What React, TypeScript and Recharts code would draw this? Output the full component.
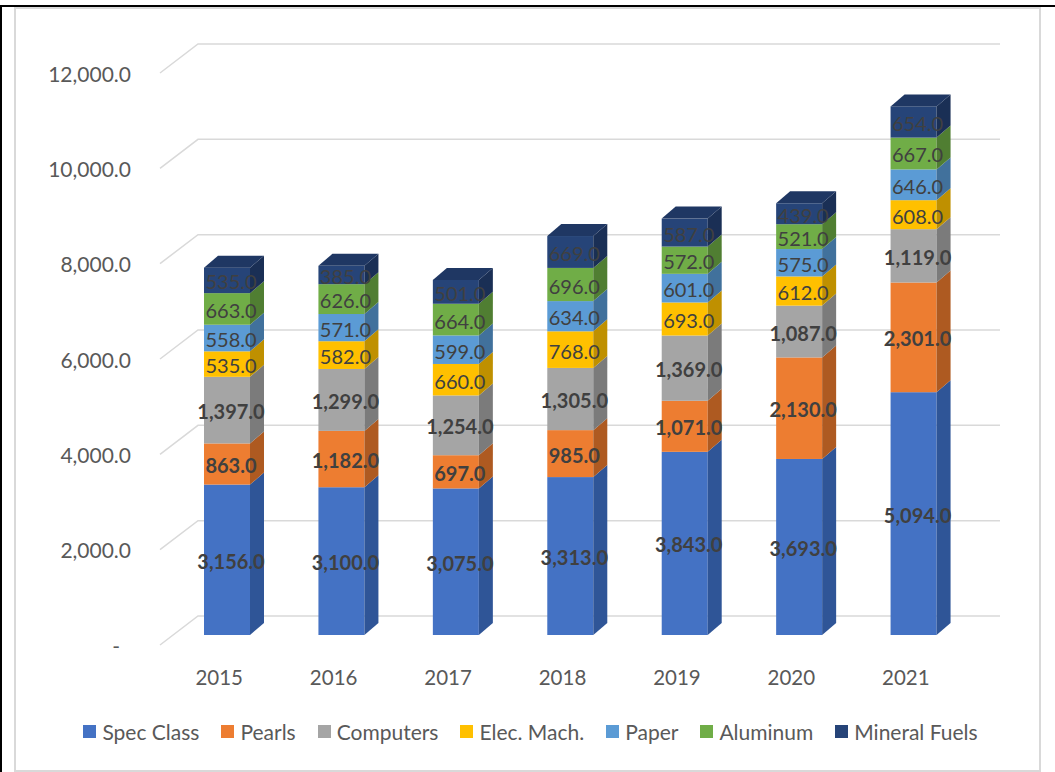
import { Bar, BarChart, CartesianGrid, LabelList, Legend, XAxis, YAxis } from "recharts";

const years = ["2015", "2016", "2017", "2018", "2019", "2020", "2021"];
const specClass = [3156, 3100, 3075, 3313, 3843, 3693, 5094];
const pearls = [863, 1182, 697, 985, 1071, 2130, 2301];
const computers = [1397, 1299, 1254, 1305, 1369, 1087, 1119];
const elecMach = [535, 582, 660, 768, 693, 612, 608];
const paper = [558, 571, 599, 634, 601, 575, 646];
const aluminum = [663, 626, 664, 696, 572, 521, 667];
const mineralFuels = [535, 385, 501, 669, 587, 439, 654];
const yTicks = [0, 2000, 4000, 6000, 8000, 10000, 12000];

const series = [
  { key: "spec", name: "Spec Class", values: specClass, front: "#4472C4", side: "#2F5597", bold: true },
  { key: "pearls", name: "Pearls", values: pearls, front: "#ED7D31", side: "#AE5A21", bold: true },
  { key: "comp", name: "Computers", values: computers, front: "#A5A5A5", side: "#7B7B7B", bold: true },
  { key: "elec", name: "Elec. Mach.", values: elecMach, front: "#FFC000", side: "#BF9000", bold: false },
  { key: "paper", name: "Paper", values: paper, front: "#5B9BD5", side: "#41719C", bold: false },
  { key: "alu", name: "Aluminum", values: aluminum, front: "#70AD47", side: "#507E32", bold: false },
  { key: "fuel", name: "Mineral Fuels", values: mineralFuels, front: "#264478", side: "#1A2F55", bold: false },
];

const data = years.map((year, i) => {
  const row: Record<string, string | number> = { year };
  series.forEach((s) => (row[s.key] = s.values[i]));
  return row;
});

const FONT = "Lato, 'Open Sans', sans-serif";
// 3d depth of the boxes and of the back wall
const DX = 14;
const DY = 12;
const WALL_DX = 38;
const WALL_DY = 29;

const makeShape = (front: string, side: string, top: boolean) => (p: any) => {
  const { x, y, width: w, height: h } = p;
  if (!h || h <= 0) return <g />;
  return (
    <g>
      <rect x={x} y={y} width={w} height={h} fill={front} />
      <path d={`M${x + w},${y} L${x + w + DX},${y - DY} L${x + w + DX},${y + h - DY} L${x + w},${y + h} Z`} fill={side} />
      {top && (
        <path d={`M${x},${y} L${x + DX},${y - DY} L${x + w + DX},${y - DY} L${x + w},${y} Z`} fill="#1F3763" />
      )}
    </g>
  );
};

const makeLabel = (bold: boolean) => (p: any) => {
  const { x, y, width, height, value } = p;
  return (
    <text
      x={x + width / 2 + 4}
      y={y + height / 2 + 1}
      textAnchor="middle"
      dominantBaseline="central"
      fill="#404040"
      fontFamily={FONT}
      fontSize={20}
      fontWeight={bold ? 700 : 400}
    >
      {Number(value).toLocaleString("en-US", { minimumFractionDigits: 1 })}
    </text>
  );
};

const gridLine = (p: any) => {
  const y = p.y1;
  return (
    <path
      key={p.key}
      d={`M160,${y + 10} L${160 + WALL_DX},${y + 10 - WALL_DY} L${p.x2 + 29},${y + 10 - WALL_DY}`}
      stroke="#D9D9D9"
      strokeWidth={1.5}
      fill="none"
    />
  );
};

const YTick = (p: any) => {
  const v = p.payload.value;
  return (
    <text
      x={v === 0 ? 120 : 131}
      y={p.y + 10}
      textAnchor="end"
      dominantBaseline="central"
      fill="#595959"
      fontFamily={FONT}
      fontSize={21}
    >
      {v === 0 ? "-" : v.toLocaleString("en-US", { minimumFractionDigits: 1 })}
    </text>
  );
};

const XTick = (p: any) => (
  <text x={p.x - 8} y={p.y + 34} textAnchor="middle" dominantBaseline="central" fill="#595959" fontFamily={FONT} fontSize={20.5}>
    {p.payload.value}
  </text>
);

const LegendContent = () => (
  <div style={{ display: "flex", justifyContent: "center", gap: 22, fontFamily: FONT, fontSize: 21, color: "#595959" }}>
    {series.map((s) => (
      <div key={s.key} style={{ display: "flex", alignItems: "center", gap: 6 }}>
        <span style={{ display: "inline-block", width: 13, height: 13, background: s.front }} />
        <span>{s.name}</span>
      </div>
    ))}
  </div>
);

export default function App() {
  return (
    <div style={{ position: "relative", width: 1055, height: 772, background: "#fff", overflow: "hidden" }}>
      <style>{"body{margin:0}"}</style>
      <div style={{ position: "absolute", left: 0, top: 5, width: 1055, height: 2, background: "#000" }} />
      <div style={{ position: "absolute", left: 0, top: 5, width: 2, height: 767, background: "#000" }} />
      <div
        style={{
          position: "absolute",
          left: 14,
          top: 7,
          width: 1023,
          height: 761,
          border: "2px solid #D9D9D9",
        }}
      />
      <div style={{ position: "absolute", left: 0, top: 0 }}>
        <BarChart width={1055} height={772} data={data} margin={{ top: 63, right: 84, bottom: 97, left: 0 }} barSize={46}>
          <CartesianGrid vertical={false} horizontal={gridLine} />
          <XAxis dataKey="year" axisLine={false} tickLine={false} height={40} tick={<XTick />} />
          <YAxis
            domain={[0, 12000]}
            ticks={yTicks}
            axisLine={false}
            tickLine={false}
            width={170}
            tick={<YTick />}
          />
          <Legend
            verticalAlign="middle"
            layout="horizontal"
            wrapperStyle={{ position: "absolute", top: 719, left: 3, width: 1055 }}
            content={<LegendContent />}
          />
          {series.map((s, i) => (
            <Bar
              key={s.key}
              dataKey={s.key}
              name={s.name}
              stackId="a"
              fill={s.front}
              isAnimationActive={false}
              shape={makeShape(s.front, s.side, i === series.length - 1)}
            >
              <LabelList dataKey={s.key} content={makeLabel(s.bold)} />
            </Bar>
          ))}
        </BarChart>
      </div>
    </div>
  );
}
